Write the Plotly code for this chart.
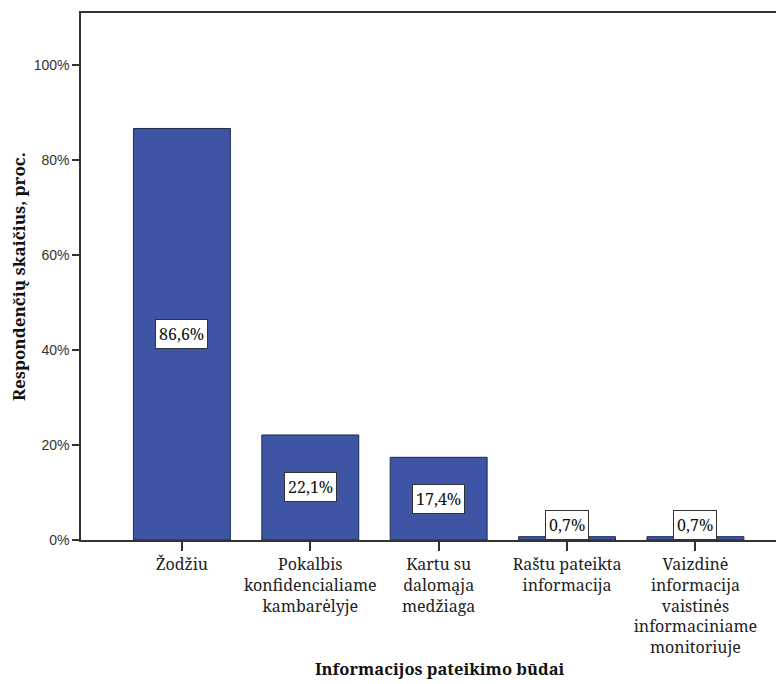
import plotly.graph_objects as go

categories = ["Žodžiu", "Pokalbis<br>konfidencialiame<br>kambarėlyje", "Kartu su<br>dalomąja<br>medžiaga",
              "Raštu pateikta<br>informacija", "Vaizdinė<br>informacija<br>vaistinės<br>informaciniame<br>monitoriuje"]
values = [86.6, 22.1, 17.4, 0.7, 0.7]
labels = ["86,6%", "22,1%", "17,4%", "0,7%", "0,7%"]
y_ticks = [0, 20, 40, 60, 80, 100]

serif = "Noto Serif"
x = list(range(len(categories)))

fig = go.Figure()
fig.add_trace(go.Bar(
    x=x, y=values, width=0.755,
    marker=dict(color="#3E55A6", line=dict(color="#1F2A4A", width=1)),
    hoverinfo="skip",
))

for xi, v, lab in zip(x, values, labels):
    ypos = v / 2 if v > 5 else 3.2
    fig.add_annotation(
        x=xi, y=ypos, text=lab, showarrow=False,
        font=dict(family=serif, size=16, color="#111"),
        bgcolor="white", bordercolor="#333", borderwidth=1, borderpad=3,
        xanchor="center", yanchor="middle",
    )

fig.add_annotation(
    xref="paper", yref="paper", x=0.511, y=-0.243,
    text="<b>Informacijos pateikimo būdai</b>", showarrow=False,
    font=dict(family=serif, size=16.5, color="#111"),
    xanchor="center", yanchor="middle",
)
fig.add_annotation(
    xref="paper", yref="paper", x=-0.0896, y=0.499,
    text="<b>Respondenčių skaičius, proc.</b>", showarrow=False, textangle=-90,
    font=dict(family=serif, size=17, color="#111"),
    xanchor="center", yanchor="middle",
)

fig.update_layout(
    width=776, height=676,
    margin=dict(l=73, r=0, t=5, b=144, autoexpand=False),
    plot_bgcolor="white", paper_bgcolor="white",
    showlegend=False,
)
fig.update_xaxes(
    range=[-0.786, 4.69], automargin=False,
    tickmode="array", tickvals=x, ticktext=categories,
    ticks="outside", ticklen=9, tickcolor="#333", tickwidth=1.5,
    showline=True, linecolor="#333", linewidth=1.5, mirror=True,
    showgrid=False, zeroline=False,
    tickfont=dict(family=serif, size=16, color="#222"),
)
fig.update_yaxes(
    range=[0, 110.9], automargin=False,
    tickmode="array", tickvals=y_ticks, ticktext=[f"{t}%" for t in y_ticks],
    ticks="outside", ticklen=7, tickcolor="#333", tickwidth=1.5,
    showline=True, linecolor="#333", linewidth=1.5,
    showgrid=False, zeroline=False,
    tickfont=dict(family="Liberation Sans", size=14, color="#333"),
)

fig.write_html("out.html")
